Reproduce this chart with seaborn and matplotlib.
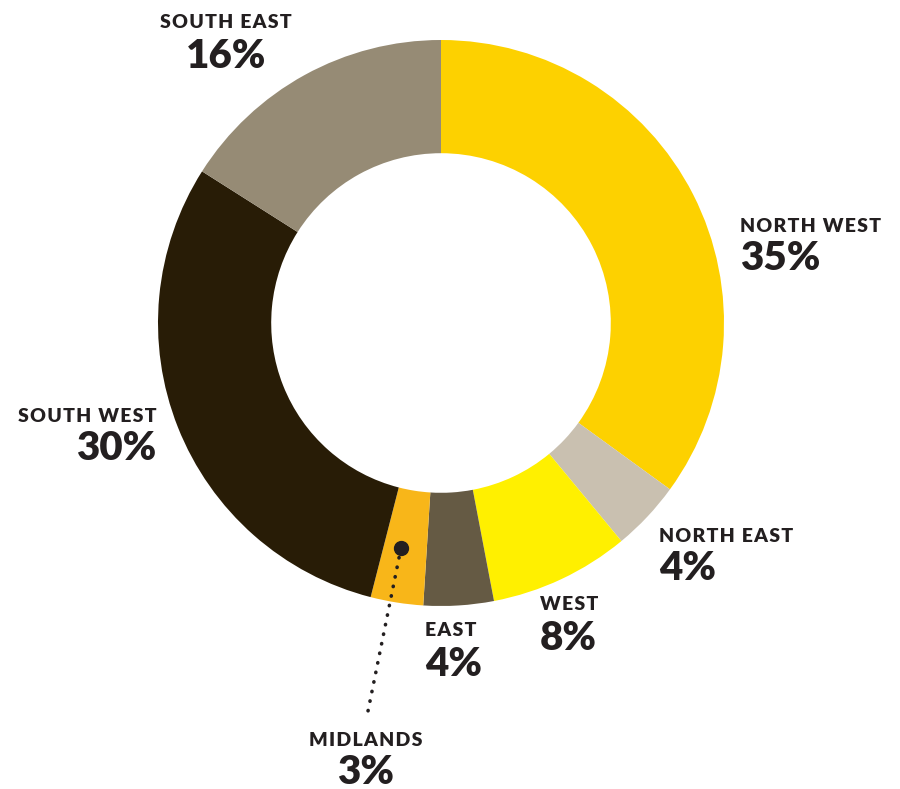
import matplotlib.pyplot as plt
import seaborn as sns

sns.set_theme(style="white")
plt.rcParams['font.family'] = ['Lato', 'DejaVu Sans']

# 数据
regions = ["NORTH WEST", "NORTH EAST", "WEST", "EAST", "MIDLANDS", "SOUTH WEST", "SOUTH EAST"]
shares = [35, 4, 8, 4, 3, 30, 16]
colors = ["#FDD100", "#C9C0B0", "#FFF000", "#655A44", "#F8B619", "#281C06", "#968B75"]

# 标签位置 (像素, 参考图坐标), 对齐方式
label_pos = {
    "NORTH WEST": (740, 226, "left"),
    "NORTH EAST": (659, 536, "left"),
    "WEST": (540, 605, "left"),
    "EAST": (425, 631, "left"),
    "MIDLANDS": (366, 740, "center"),
    "SOUTH WEST": (156, 416, "right"),
    "SOUTH EAST": (226, 23, "center"),
}

W, H = 900, 789
cx, cy, R = 441, 323, 283
text_color = "#231F20"


def px(x, y):
    return (x - cx) / R, (cy - y) / R


fig = plt.figure(figsize=(9, 7.89), dpi=100)
ax = fig.add_axes([(cx - R) / W, (H - cy - R) / H, 2 * R / W, 2 * R / H])
ax.pie(shares, colors=colors, startangle=90, counterclock=False, radius=1,
       wedgeprops=dict(width=0.4, linewidth=0))
ax.set_xlim(-1, 1)
ax.set_ylim(-1, 1)
ax.set_aspect("equal")
ax.axis("off")

for name, val in zip(regions, shares):
    x, y, ha = label_pos[name]
    tx, ty = px(x, y)
    # 字母间距: 用细空格拉开
    spaced = "\u200a".join(name)
    ax.text(tx, ty, spaced, ha=ha, va="center", fontsize=14, fontweight="heavy",
            color=text_color, clip_on=False)
    px2, py2 = px(x, y + 33)
    ax.text(px2, py2, f"{val}%", ha=ha, va="center", fontsize=29, fontweight="heavy",
            color=text_color, clip_on=False)

# Midlands 引线
x0, y0 = px(401, 548)
x1, y1 = px(367, 716)
ax.plot([x0, x1], [y0, y1], linestyle=(0, (0.1, 2.6)), linewidth=2.6,
        color=text_color, solid_capstyle="round", dash_capstyle="round", clip_on=False)
ax.plot([x0], [y0], "o", markersize=10, color=text_color, clip_on=False)

plt.savefig("out.png", dpi=100)
